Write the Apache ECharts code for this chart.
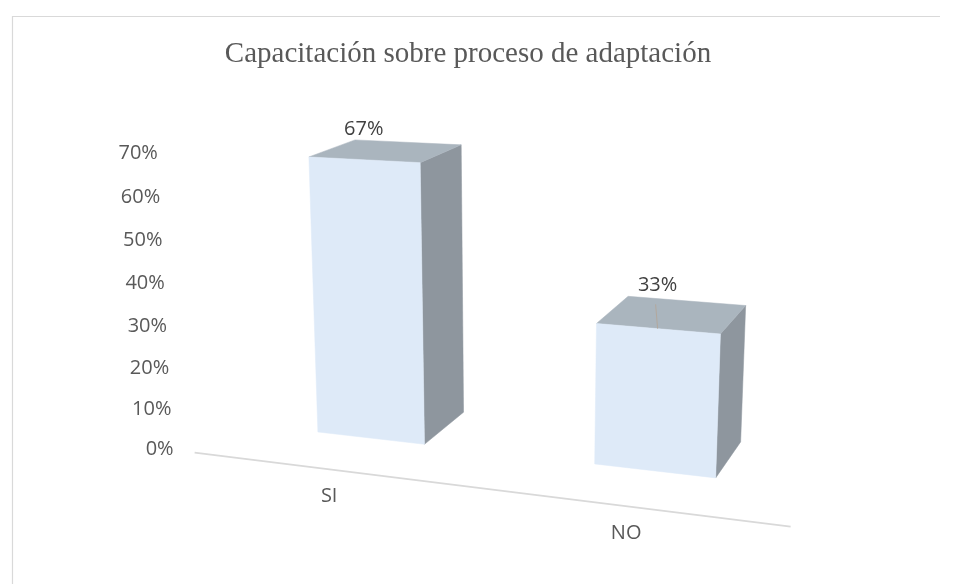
<!DOCTYPE html>
<html>
<head>
<meta charset="utf-8">
<script src="https://cdn.jsdelivr.net/npm/echarts@6/dist/echarts.min.js"></script>
<style>
  html, body { margin: 0; padding: 0; background: #ffffff; }
  #chart { width: 959px; height: 584px; }
</style>
</head>
<body>
<div id="chart"></div>
<script>
// ---- data ----
const titleText = 'Capacitación sobre proceso de adaptación';
const categories = ['SI', 'NO'];
const values = [0.67, 0.33];
const dataLabels = ['67%', '33%'];
const yTickValues = [0, 0.1, 0.2, 0.3, 0.4, 0.5, 0.6, 0.7];
const yTickLabels = ['0%', '10%', '20%', '30%', '40%', '50%', '60%', '70%'];

// ---- 3D view (camera) ----
const CAM = {
  cx: 480, cy: 300, f: 1676,
  O: [-0.09666, 0.07876, 1],
  dX: [0.932, 0.076, -0.3513],
  dY: [-0.00575, -0.9655, -0.2604],
  dZ: [0.3622, -0.2447, 0.8994]
};
const Q0 = -0.0519, Q1 = 0.2936;   // world x of category band edges
const H1 = 0.1736;                  // world height at y-axis max
const BAR_DEPTH = 0.0613;
const FLOOR_Z = -0.055;
const BAR_FRAC = 0.4;

const FRONT = '#deeaf8', TOP = '#aab5be', SIDE = '#8e969e';
const LABEL_FONT = '"Open Sans", "Noto Sans", sans-serif';

function project(q, h, d) {
  const c = [0, 1, 2].map(k => CAM.O[k] + q * CAM.dX[k] + h * CAM.dY[k] + d * CAM.dZ[k]);
  return [CAM.cx + CAM.f * c[0] / c[2], CAM.cy + CAM.f * c[1] / c[2]];
}
function toWorld(params, px, py) {
  const cs = params.coordSys;
  return [Q0 + (px - cs.x) / cs.width * (Q1 - Q0), (cs.y + cs.height - py) / cs.height * H1];
}

const chart = echarts.init(document.getElementById('chart'), null, { renderer: 'canvas' });

const option = {
  backgroundColor: '#ffffff',
  animation: false,
  graphic: [
    {
      type: 'polyline', silent: true, z: 0,
      shape: { points: [[12.5, 600], [12.5, 16.5], [940, 16.5]] },
      style: { stroke: '#d9d9d9', lineWidth: 1.2, fill: null }
    },
    {
      type: 'text', z: 10, x: 468, y: 54,
      style: {
        text: titleText, fill: '#595959',
        font: 'normal 29px "Liberation Serif", "Times New Roman", serif',
        textAlign: 'center', textVerticalAlign: 'middle'
      }
    }
  ],
  grid: { left: 100, right: 100, top: 100, bottom: 100, show: false },
  xAxis: { type: 'category', data: categories, show: false, boundaryGap: true },
  yAxis: { type: 'value', min: 0, max: 0.7, interval: 0.1, show: false },
  series: [
    {
      // floor / category axis line
      type: 'custom', clip: false, z: 1,
      data: [[0, 0]],
      renderItem: function (params, api) {
        const cs = params.coordSys;
        const base = api.coord([0, 0]);
        const [qa, h0] = toWorld(params, cs.x, base[1]);
        const [qb] = toWorld(params, cs.x + cs.width, base[1]);
        const a = project(qa, h0, FLOOR_Z), b = project(qb, h0, FLOOR_Z);
        return {
          type: 'line',
          shape: { x1: a[0], y1: a[1], x2: b[0], y2: b[1] },
          style: { stroke: '#d9d9d9', lineWidth: 1.8 }
        };
      }
    },
    {
      // value axis labels
      type: 'custom', clip: false, z: 2,
      data: yTickValues.map((v, i) => [0, v, i]),
      renderItem: function (params, api) {
        const cs = params.coordSys;
        const p = api.coord([0, api.value(1)]);
        const [q, h] = toWorld(params, cs.x, p[1]);
        const s = project(q, h, FLOOR_Z);
        return {
          type: 'text',
          x: s[0] - 21, y: s[1] - 3,
          style: {
            text: yTickLabels[api.value(2)], fill: '#595959',
            font: 'normal 20px ' + LABEL_FONT,
            textAlign: 'right', textVerticalAlign: 'middle'
          }
        };
      }
    },
    {
      // category labels
      type: 'custom', clip: false, z: 2,
      data: categories.map((c, i) => [i, 0]),
      renderItem: function (params, api) {
        const i = api.value(0);
        const p = api.coord([i, 0]);
        const [q, h] = toWorld(params, p[0], p[1]);
        const s = project(q, h, FLOOR_Z);
        return {
          type: 'text',
          x: s[0], y: s[1] + 27,
          style: {
            text: categories[i], fill: '#595959',
            font: 'normal 20px ' + LABEL_FONT,
            textAlign: 'center', textVerticalAlign: 'middle'
          }
        };
      }
    },
    {
      // 3D bars
      type: 'custom', clip: false, z: 3,
      data: values.map((v, i) => [i, v]),
      renderItem: function (params, api) {
        const i = api.value(0), v = api.value(1);
        const base = api.coord([i, 0]);
        const top = api.coord([i, v]);
        const band = api.size([1, 0])[0];
        const hw = band * BAR_FRAC / 2;
        const [qL, h0] = toWorld(params, base[0] - hw, base[1]);
        const [qR] = toWorld(params, base[0] + hw, base[1]);
        const [, hT] = toWorld(params, top[0], top[1]);
        const qC = (qL + qR) / 2;
        const D = BAR_DEPTH;
        const fbl = project(qL, h0, 0), fbr = project(qR, h0, 0);
        const ftl = project(qL, hT, 0), ftr = project(qR, hT, 0);
        const btl = project(qL, hT, D), btr = project(qR, hT, D);
        const bbr = project(qR, h0, D);
        const ftc = project(qC, hT, 0);
        const children = [
          { type: 'polygon', shape: { points: [ftr, btr, bbr, fbr] }, style: { fill: SIDE, stroke: SIDE, lineWidth: 0.5 } },
          { type: 'polygon', shape: { points: [ftl, ftr, btr, btl] }, style: { fill: TOP, stroke: TOP, lineWidth: 0.5 } },
          { type: 'polygon', shape: { points: [fbl, fbr, ftr, ftl] }, style: { fill: FRONT, stroke: FRONT, lineWidth: 0.5 } }
        ];
        const labelBottom = btl[1] - 1;
        if (ftc[1] - labelBottom > 25) {
          children.push({
            type: 'line', z2: 5,
            shape: { x1: ftc[0], y1: ftc[1], x2: ftc[0] - 2, y2: labelBottom + 9 },
            style: { stroke: '#b3a89d', lineWidth: 1 }
          });
        }
        children.push({
          type: 'text', z2: 6,
          x: ftc[0], y: labelBottom,
          style: {
            text: dataLabels[i], fill: '#404040',
            font: 'normal 20px ' + LABEL_FONT,
            textAlign: 'center', textVerticalAlign: 'bottom'
          }
        });
        return { type: 'group', children: children };
      }
    }
  ]
};
chart.setOption(option);
</script>
</body>
</html>
